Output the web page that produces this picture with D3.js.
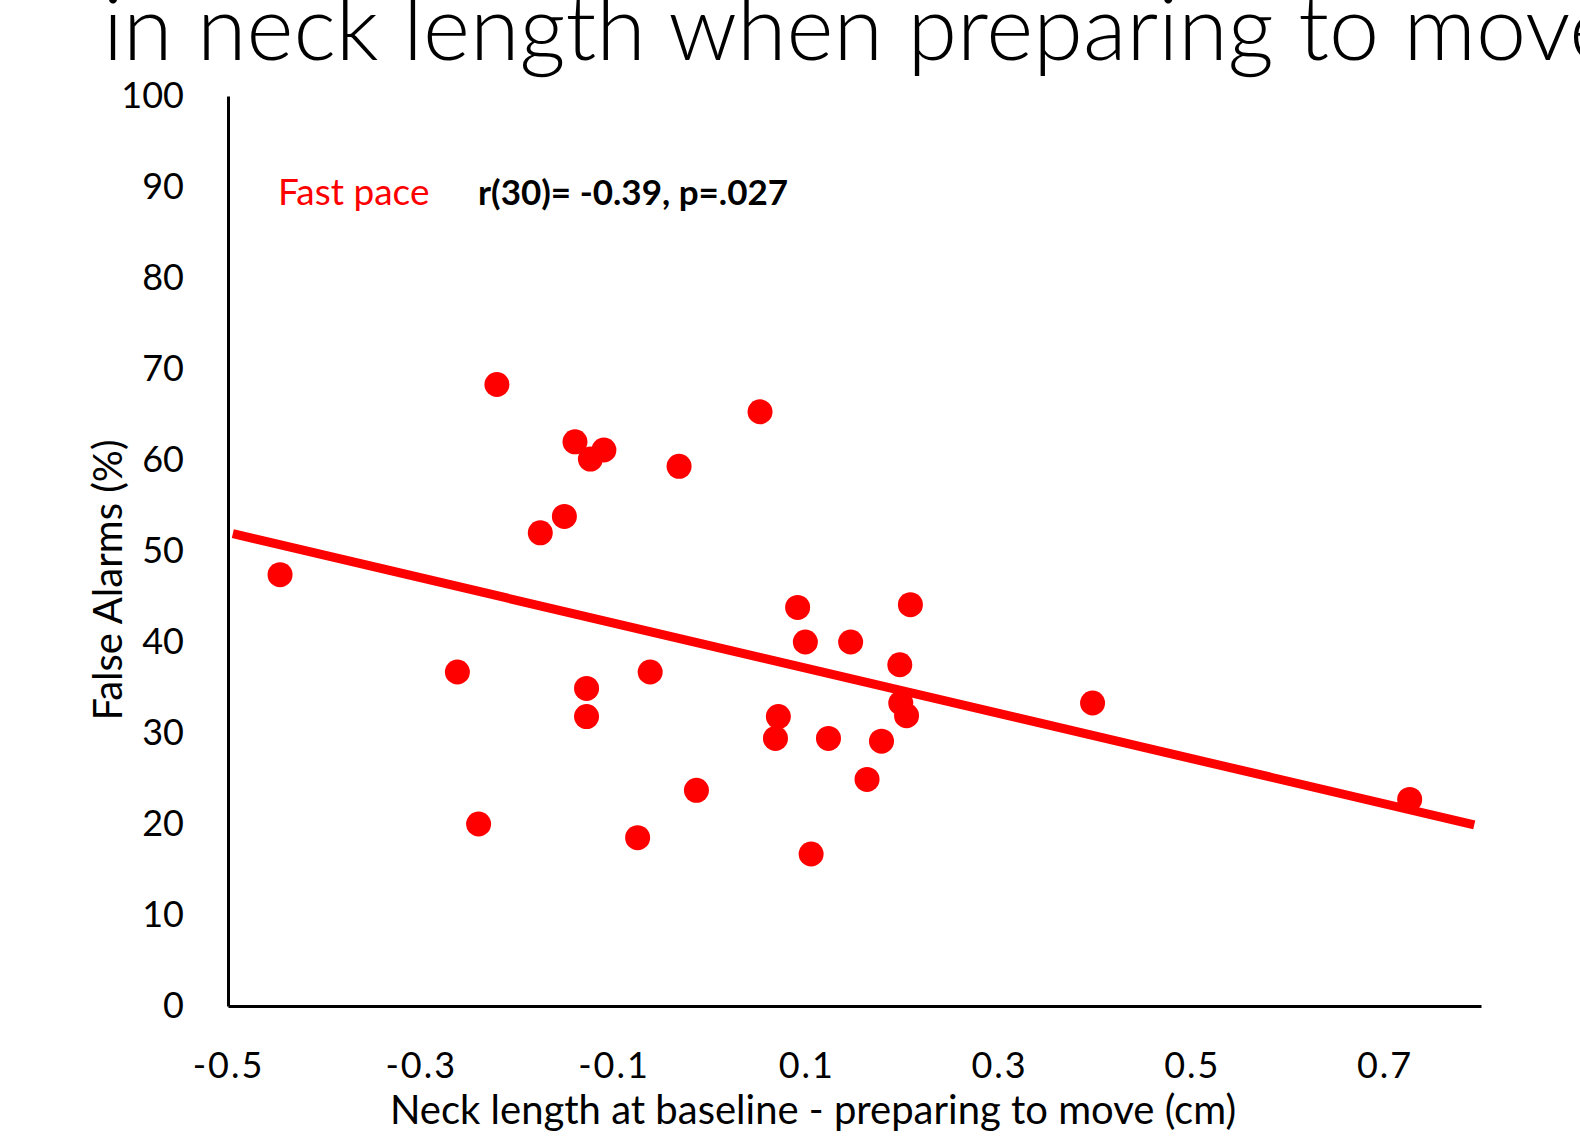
<!DOCTYPE html>
<html>
<head>
<meta charset="utf-8">
<script src="https://cdn.jsdelivr.net/npm/d3@7"></script>
<style>
  html, body { margin: 0; padding: 0; background: #fff; overflow: hidden; }
  svg { display: block; font-family: Lato, "Open Sans", sans-serif; }
</style>
</head>
<body>
<svg id="chart" width="1580" height="1142"></svg>
<script>
// Neck length change vs. false alarm rate, fast pace condition
const neckChange = [
  -0.221, -0.140, -0.110, -0.124, -0.032, -0.151, -0.176, -0.446,
   0.052, -0.262, -0.128, -0.128, -0.062, -0.240, -0.075, -0.014,
   0.091,  0.208,  0.099,  0.146,  0.197,  0.198,  0.204,  0.071,
   0.068,  0.123,  0.178,  0.163,  0.105,  0.397,  0.726
];
const falseAlarms = [
  68.3, 62.0, 61.1, 60.1, 59.3, 53.8, 52.0, 47.4,
  65.3, 36.7, 34.9, 31.8, 36.7, 20.0, 18.5, 23.7,
  43.8, 44.1, 40.0, 40.0, 37.5, 33.3, 31.9, 31.8,
  29.4, 29.4, 29.1, 24.9, 16.7, 33.3, 22.7
];
// Linear fit endpoints
const trendX = [-0.495, 0.793];
const trendY = [51.9, 19.9];

const xTicks = [-0.5, -0.3, -0.1, 0.1, 0.3, 0.5, 0.7];
const yTicks = [0, 10, 20, 30, 40, 50, 60, 70, 80, 90, 100];

const titleText = "in neck length when preparing to move";
const xTitle = "Neck length at baseline - preparing to move (cm)";
const yTitle = "False Alarms (%)";
const seriesLabel = "Fast pace";
const statLabel = "r(30)= -0.39, p=.027";

const svg = d3.select("#chart");
const RED = "#ff0000";

const x = d3.scaleLinear().domain([-0.5, 0.8]).range([228, 1481]);
const y = d3.scaleLinear().domain([0, 100]).range([1006, 96]);

// Title (runs past the right edge of the slide)
svg.append("text")
  .attr("x", 103).attr("y", 60)
  .attr("font-size", 90).attr("font-weight", 300)
  .attr("fill", "#000")
  .text(titleText);

// Axes
const xAxis = d3.axisBottom(x).tickValues(xTicks).tickSize(0).tickPadding(46)
  .tickFormat(d3.format(".1f"));
const yAxis = d3.axisLeft(y).tickValues(yTicks).tickSize(0).tickPadding(44)
  .tickFormat(d3.format("d"));

const gx = svg.append("g").attr("transform", `translate(0,${y(0)})`).call(xAxis);
const gy = svg.append("g").attr("transform", `translate(${x(-0.5)},0)`).call(yAxis);

[gx, gy].forEach(g => {
  g.select(".domain").attr("stroke", "#000").attr("stroke-width", 3);
  g.selectAll(".tick text")
    .attr("font-family", "Lato, 'Open Sans', sans-serif")
    .attr("font-size", 36).attr("fill", "#000");
});
gx.selectAll(".tick text")
  .attr("letter-spacing", 2)
  .text(d => d3.format(".1f")(d).replace("−", "-"));

// Axis titles
svg.append("text")
  .attr("x", 813).attr("y", 1124)
  .attr("text-anchor", "middle")
  .attr("font-size", 40).attr("fill", "#000")
  .text(xTitle);

svg.append("text")
  .attr("transform", "translate(122,580) rotate(-90)")
  .attr("text-anchor", "middle")
  .attr("font-size", 40).attr("fill", "#000")
  .text(yTitle);

// Annotations
svg.append("text")
  .attr("x", 278).attr("y", 205)
  .attr("font-size", 37).attr("fill", RED)
  .text(seriesLabel);

svg.append("text")
  .attr("x", 478).attr("y", 205)
  .attr("font-size", 35).attr("font-weight", 700).attr("fill", "#000")
  .text(statLabel);

// Trend line
const trend = trendX.map((v, i) => [v, trendY[i]]);
svg.append("path")
  .datum(trend)
  .attr("d", d3.line().x(d => x(d[0])).y(d => y(d[1])))
  .attr("stroke", RED).attr("stroke-width", 9).attr("fill", "none");

// Points
const pts = neckChange.map((v, i) => ({ x: v, y: falseAlarms[i] }));
svg.append("g").selectAll("circle")
  .data(pts)
  .join("circle")
  .attr("cx", d => x(d.x))
  .attr("cy", d => y(d.y))
  .attr("r", 12.5)
  .attr("fill", RED);
</script>
</body>
</html>
